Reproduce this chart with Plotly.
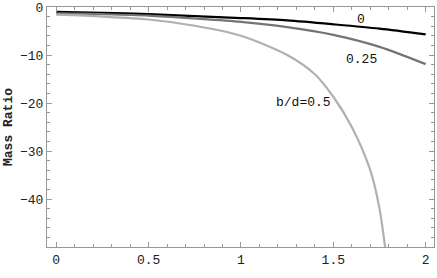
import plotly.graph_objects as go

# curves, one per b/d value
x_0 = [0, 0.25, 0.5, 0.75, 1.0, 1.25, 1.5, 1.75, 2.0]
y_0 = [-1.0, -1.2, -1.5, -1.9, -2.3, -2.8, -3.6, -4.5, -5.7]

x_025 = [0, 0.25, 0.5, 0.75, 1.0, 1.25, 1.5, 1.75, 2.0]
y_025 = [-1.3, -1.5, -1.8, -2.4, -3.1, -4.2, -5.8, -8.3, -11.9]

x_05 = [0, 0.25, 0.5, 0.75, 1.0, 1.25, 1.4, 1.5, 1.6, 1.7, 1.75, 1.78]
y_05 = [-1.6, -2.0, -2.6, -3.9, -6.0, -10.0, -14.0, -18.7, -25.0, -34.0, -42.0, -50.0]

labels = ["0", "0.25", "b/d=0.5"]
label_x = [1.65, 1.65, 1.34]
label_y = [-2.6, -11.0, -19.8]

x_ticks = [0, 0.5, 1, 1.5, 2]
x_tick_text = ["0", "0.5", "1", "1.5", "2"]
y_ticks = [0, -10, -20, -30, -40]
y_tick_text = ["0", "\u221210", "\u221220", "\u221230", "\u221240"]

mono = "Liberation Mono, Courier New, monospace"

fig = go.Figure()

# one trace per curve
for xs, ys, color in [
    (x_0, y_0, "#000000"),
    (x_025, y_025, "#747474"),
    (x_05, y_05, "#b0b0b0"),
]:
    fig.add_trace(
        go.Scatter(
            x=xs,
            y=ys,
            mode="lines",
            line=dict(color=color, width=2.2, shape="spline", smoothing=0.8),
            showlegend=False,
            hoverinfo="none",
        )
    )

for text, lx, ly in zip(labels, label_x, label_y):
    fig.add_annotation(
        x=lx, y=ly, text=text, showarrow=False,
        font=dict(family=mono, size=13, color="#111111"),
    )

axis_common = dict(
    showgrid=False,
    zeroline=False,
    showline=True,
    linecolor="#999999",
    linewidth=1,
    mirror="allticks",
    ticks="inside",
    ticklen=5,
    tickcolor="#999999",
    automargin=False,
    tickfont=dict(family=mono, size=13, color="#222222"),
)

fig.update_layout(
    width=437,
    height=278,
    paper_bgcolor="white",
    plot_bgcolor="white",
    margin=dict(l=47, r=3, t=7, b=31),
    xaxis=dict(
        range=[-0.05, 2.045],
        tickvals=x_ticks,
        ticktext=x_tick_text,
        minor=dict(dtick=0.1, tick0=0, ticks="inside", ticklen=3, tickcolor="#999999"),
        **axis_common,
    ),
    yaxis=dict(
        range=[-50, 0],
        tickvals=y_ticks,
        ticktext=y_tick_text,
        minor=dict(dtick=2, tick0=0, ticks="inside", ticklen=3, tickcolor="#999999"),
        title=dict(
            text="<b>Mass Ratio</b>",
            font=dict(family=mono, size=13, color="#222222"),
            standoff=4,
        ),
        **axis_common,
    ),
)

# page has a default body margin, drop it so the figure sits at 0,0
fig.write_html(
    "out.html",
    config={"displayModeBar": False},
    post_script="document.body.style.margin='0';",
)
